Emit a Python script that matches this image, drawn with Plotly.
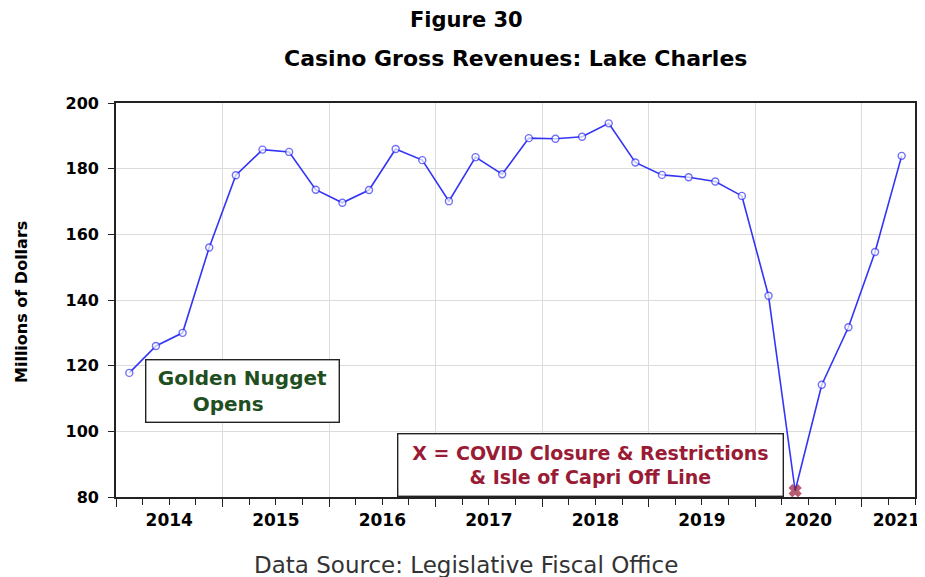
import numpy as np
import plotly.graph_objects as go

# ---- data ----
quarters = ["2014Q1", "2014Q2", "2014Q3", "2014Q4",
            "2015Q1", "2015Q2", "2015Q3", "2015Q4",
            "2016Q1", "2016Q2", "2016Q3", "2016Q4",
            "2017Q1", "2017Q2", "2017Q3", "2017Q4",
            "2018Q1", "2018Q2", "2018Q3", "2018Q4",
            "2019Q1", "2019Q2", "2019Q3", "2019Q4",
            "2020Q1", "2020Q2", "2020Q3", "2020Q4",
            "2021Q1", "2021Q2"]
revenues = [117.8, 126.0, 130.0, 156.0,
            178.0, 185.8, 185.1, 173.6,
            169.6, 173.5, 186.0, 182.6,
            170.1, 183.5, 178.3, 189.3,
            189.1, 189.7, 193.8, 181.9,
            178.1, 177.4, 176.1, 171.7,
            141.3, 81.9, 114.2, 131.7,
            154.6, 183.9]
covid_quarter = "2020Q2"
years = [2014, 2015, 2016, 2017, 2018, 2019, 2020, 2021]
y_ticks = [80, 100, 120, 140, 160, 180, 200]

# ---- derived positions (quarter index scale) ----
base_year = years[0]
qidx = np.array([(int(q[:4]) - base_year) * 4 + int(q[5]) - 1 for q in quarters])
xpos = qidx + 0.5
x_end = len(quarters)
year_bounds = [(y - base_year) * 4 for y in years]
quarter_bounds = list(range(0, x_end + 1))
year_label_pos = [min(b + 2, x_end - 0.7) for b in year_bounds]

BLUE = "#3434f6"
RED = "#9a1b35"
GREEN = "#1f4f1f"

is_covid = [q == covid_quarter for q in quarters]
symbols = ["x" if c else "circle" for c in is_covid]
fills = [RED if c else "white" for c in is_covid]
edges = [RED if c else BLUE for c in is_covid]
msizes = [10 if c else 7 for c in is_covid]

fig = go.Figure()
# helper (empty) trace so the overlaid year-boundary axis is drawn
fig.add_trace(go.Scatter(x=[0, x_end], y=[None, None], xaxis="x2", mode="lines",
                         showlegend=False, hoverinfo="skip"))
fig.add_trace(go.Scatter(
    x=xpos, y=revenues, mode="lines+markers",
    line=dict(color=BLUE, width=1.6),
    marker=dict(symbol=symbols, color=fills, size=msizes,
                line=dict(width=1.4, color=edges)),
    showlegend=False, hoverinfo="y",
))

FONT = "DejaVu Sans"
NB = "\u00a0"

fig.update_layout(
    width=917, height=569,
    margin=dict(l=108, r=10, t=95, b=80),
    paper_bgcolor="white", plot_bgcolor="white",
    font=dict(family=FONT, color="black"),
    xaxis=dict(
        range=[0, x_end], tickmode="array", tickvals=year_label_pos,
        ticktext=[f"<b>{y}</b>" for y in years], ticks="",
        tickfont=dict(size=17, family=FONT, color="black"),
        ticklabelstandoff=7,
        showgrid=False, zeroline=False, automargin=False,
        showline=True, mirror=True, linecolor="#222", linewidth=1.6,
        minor=dict(tickmode="array", tickvals=quarter_bounds, ticks="outside",
                   ticklen=6, tickwidth=1.2, tickcolor="#222", showgrid=False),
    ),
    xaxis2=dict(
        overlaying="x", anchor="y", side="bottom",
        range=[0, x_end], tickmode="array", tickvals=year_bounds,
        ticks="outside", ticklen=9, tickwidth=1.4, tickcolor="#222",
        showticklabels=False, showgrid=True, gridcolor="#dcdcdc", gridwidth=1,
        zeroline=False, showline=False, automargin=False,
    ),
    yaxis=dict(
        range=[80, 200], tickmode="array", tickvals=y_ticks,
        ticktext=[f"<b>{v}</b>" for v in y_ticks],
        ticks="outside", ticklen=6, tickwidth=1.2, tickcolor="#222",
        tickfont=dict(size=16, family=FONT, color="black"),
        ticklabelstandoff=6, automargin=False,
        showgrid=True, gridcolor="#dcdcdc", gridwidth=1, zeroline=False,
        showline=True, mirror=True, linecolor="#222", linewidth=1.6,
    ),
    annotations=[
        dict(text="<b>Figure 30</b>", xref="paper", yref="paper",
             x=0.439, y=1.2107, xanchor="center", yanchor="middle",
             showarrow=False, font=dict(size=21, family=FONT, color="black")),
        dict(text="<b>Casino Gross Revenues: Lake Charles</b>", xref="paper", yref="paper",
             x=0.5006, y=1.1117, xanchor="center", yanchor="middle",
             showarrow=False, font=dict(size=22, family=FONT, color="black")),
        dict(text="Data Source: Legislative Fiscal Office", xref="paper", yref="paper",
             x=0.438, y=-0.172, xanchor="center", yanchor="middle",
             showarrow=False, font=dict(size=23, family=FONT, color="#333")),
        dict(text="<b>Millions of Dollars</b>", xref="paper", yref="paper",
             x=-0.1176, y=0.495, xanchor="center", yanchor="middle", textangle=-90,
             showarrow=False, font=dict(size=16, family=FONT, color="black")),
        dict(text=f"<b>Golden Nugget</b><br><b>Opens{NB*4}</b>",
             xref="x", yref="y", x=4.75, y=112.3, xanchor="center", yanchor="middle",
             align="center", showarrow=False, width=188, height=57,
             bordercolor="#222", borderwidth=1.4, borderpad=2, bgcolor="white",
             font=dict(size=20, family=FONT, color=GREEN)),
        dict(text="<b>X = COVID Closure & Restrictions</b><br><b>& Isle of Capri Off Line</b>",
             xref="x", yref="y", x=17.8, y=89.6, xanchor="center", yanchor="middle",
             align="center", showarrow=False, width=382, height=59,
             bordercolor="#222", borderwidth=1.4, borderpad=1, bgcolor="white",
             font=dict(size=19, family=FONT, color=RED)),
    ],
)

fig.write_html("out.html")
